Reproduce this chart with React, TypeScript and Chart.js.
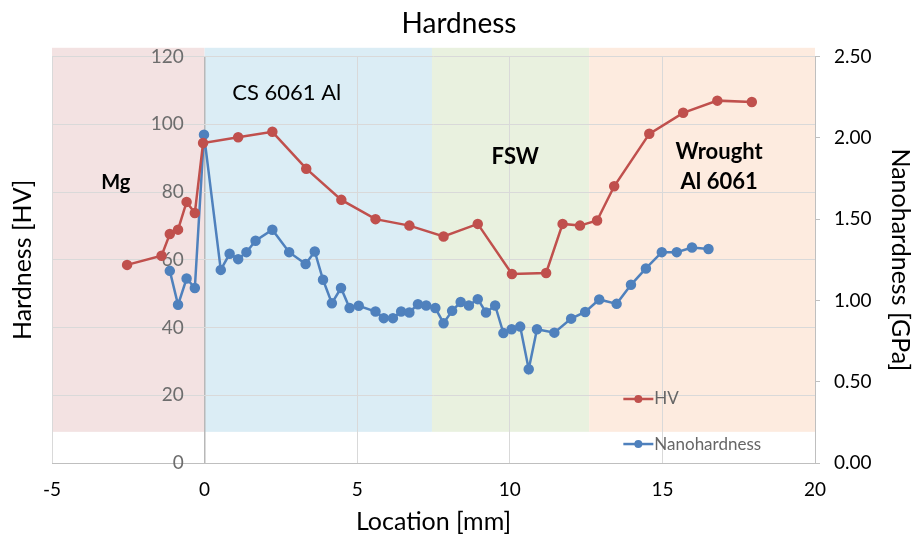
import React, { useEffect, useRef } from 'react';
import { Chart, registerables } from 'chart.js';

Chart.register(...registerables);

// ---------- data ----------
const hvLocation = [-2.54, -1.41, -1.14, -0.87, -0.59, -0.32, -0.05, 1.1, 2.22, 3.33, 4.48, 5.6, 6.71, 7.83, 8.95, 10.07, 11.19, 11.73, 12.3, 12.86, 13.42, 14.57, 15.68, 16.8, 17.93];
const hvValues = [58.5, 61.2, 67.6, 68.9, 77.1, 73.8, 94.5, 96.2, 97.8, 86.9, 77.7, 72.0, 70.1, 66.9, 70.6, 55.8, 56.1, 70.6, 70.1, 71.6, 81.7, 97.2, 103.4, 107.0, 106.6];

const nanoLocation = [-1.14, -0.87, -0.59, -0.32, -0.02, 0.53, 0.82, 1.1, 1.37, 1.67, 2.22, 2.77, 3.31, 3.61, 3.88, 4.17, 4.47, 4.75, 5.05, 5.6, 5.87, 6.17, 6.44, 6.71, 6.99, 7.26, 7.56, 7.83, 8.11, 8.39, 8.66, 8.95, 9.22, 9.52, 9.79, 10.06, 10.34, 10.62, 10.89, 11.46, 12.01, 12.47, 12.93, 13.5, 13.97, 14.46, 14.98, 15.47, 15.97, 16.51];
const nanoValues = [1.182, 0.973, 1.135, 1.076, 2.02, 1.188, 1.287, 1.254, 1.297, 1.367, 1.435, 1.297, 1.224, 1.301, 1.127, 0.983, 1.076, 0.953, 0.967, 0.932, 0.891, 0.891, 0.932, 0.926, 0.977, 0.969, 0.953, 0.86, 0.936, 0.99, 0.969, 1.008, 0.926, 0.969, 0.799, 0.823, 0.839, 0.577, 0.823, 0.802, 0.888, 0.929, 1.006, 0.979, 1.096, 1.197, 1.297, 1.297, 1.326, 1.316];

const seriesNames = ['HV', 'Nanohardness'];

const xMin = -5;
const xMax = 20;
const xStep = 5;
const hvMin = 0;
const hvMax = 120;
const hvStep = 20;
const nanoMin = 0;
const nanoMax = 2.5;
const nanoStep = 0.5;

// material zones along the location axis
const zoneNames = ['Mg', 'CS 6061 Al', 'FSW', 'Wrought\nAl 6061'];
const zoneStarts = [-5, 0, 7.45, 12.6];
const zoneEnds = [0, 7.45, 12.6, 20];
const zoneBottom = 9.2;
const zoneTop = 122.6;

// ---------- styles ----------
const FONT = 'Lato, "Open Sans", sans-serif';
const hvColor = '#c0504d';
const nanoColor = '#4f81bd';
const zoneColors = ['#f3e2e2', '#dbedf5', '#e9f1df', '#fdebdf'];
const zoneLabelX = [-2.91, 2.69, 10.18, 16.86];
const zoneLabelY = [82.8, 109.4, 90.4, 91.9];
const zoneLabelBold = [true, false, true, true];
const zoneLabelSize = [20, 22, 22, 22];
const hvLabelAxisAt = -0.68; // where the HV tick labels sit along the location axis

const zonesPlugin = {
  id: 'zones',
  beforeDraw(chart: any) {
    const { ctx, scales } = chart;
    const x = scales.x;
    const y = scales.y;
    ctx.save();
    for (let i = 0; i < zoneStarts.length; i++) {
      const x0 = x.getPixelForValue(zoneStarts[i]);
      const x1 = x.getPixelForValue(zoneEnds[i]);
      const y0 = y.getPixelForValue(zoneTop);
      const y1 = y.getPixelForValue(zoneBottom);
      ctx.fillStyle = zoneColors[i];
      ctx.fillRect(x0, y0, x1 - x0, y1 - y0);
    }
    ctx.restore();
  },
  afterDraw(chart: any) {
    const { ctx, scales } = chart;
    const x = scales.x;
    const y = scales.y;
    ctx.save();
    ctx.fillStyle = '#000';
    ctx.textAlign = 'center';
    ctx.textBaseline = 'middle';
    for (let i = 0; i < zoneNames.length; i++) {
      ctx.font = `${zoneLabelBold[i] ? 'bold ' : ''}${zoneLabelSize[i]}px ${FONT}`;
      const lines = zoneNames[i].split('\n');
      const px = x.getPixelForValue(zoneLabelX[i]);
      const py = y.getPixelForValue(zoneLabelY[i]);
      lines.forEach((ln, j) => ctx.fillText(ln, px, py + j * 30));
    }
    ctx.restore();
  },
};

// legend drawn inside the plot area
const legendX = 13.72;
const legendYs = [18.9, 5.6];
const insideLegendPlugin = {
  id: 'insideLegend',
  afterDraw(chart: any) {
    const { ctx, scales } = chart;
    const x = scales.x;
    const y = scales.y;
    ctx.save();
    chart.data.datasets.forEach((ds: any, i: number) => {
      const x0 = x.getPixelForValue(legendX);
      const py = y.getPixelForValue(legendYs[i]);
      ctx.strokeStyle = ds.borderColor;
      ctx.lineWidth = 2.5;
      ctx.beginPath();
      ctx.moveTo(x0, py);
      ctx.lineTo(x0 + 30, py);
      ctx.stroke();
      ctx.fillStyle = ds.pointBackgroundColor;
      ctx.beginPath();
      ctx.arc(x0 + 15, py, 4, 0, Math.PI * 2);
      ctx.fill();
      ctx.fillStyle = '#666';
      ctx.font = `17px ${FONT}`;
      ctx.textAlign = 'left';
      ctx.textBaseline = 'middle';
      ctx.fillText(ds.label, x0 + 31, py);
    });
    ctx.restore();
  },
};

export default function App() {
  const canvasRef = useRef<HTMLCanvasElement | null>(null);

  useEffect(() => {
    if (!canvasRef.current) return;
    const hvData = hvLocation.map((l, i) => ({ x: l, y: hvValues[i] }));
    const nanoData = nanoLocation.map((l, i) => ({ x: l, y: nanoValues[i] }));

    const chart = new Chart(canvasRef.current, {
      type: 'line',
      data: {
        datasets: [
          {
            label: seriesNames[0],
            data: hvData,
            yAxisID: 'y',
            borderColor: hvColor,
            backgroundColor: hvColor,
            pointBackgroundColor: hvColor,
            pointBorderColor: hvColor,
            borderWidth: 2.5,
            pointRadius: 4,
            tension: 0,
          },
          {
            label: seriesNames[1],
            data: nanoData,
            yAxisID: 'y1',
            borderColor: nanoColor,
            backgroundColor: nanoColor,
            pointBackgroundColor: nanoColor,
            pointBorderColor: nanoColor,
            borderWidth: 2.5,
            pointRadius: 4,
            tension: 0,
          },
        ],
      },
      options: {
        animation: false,
        responsive: true,
        maintainAspectRatio: false,
        layout: { padding: 0 },
        font: { family: FONT },
        plugins: {
          legend: { display: false },
          tooltip: { enabled: false },
          title: {
            display: true,
            text: 'Hardness',
            color: '#000',
            font: { family: FONT, size: 28, weight: 'normal' },
            padding: { top: 7, bottom: 16 },
          },
        },
        scales: {
          x: {
            type: 'linear',
            min: xMin,
            max: xMax,
            ticks: { stepSize: xStep, color: '#000', font: { family: FONT, size: 19 }, padding: 15 },
            grid: {
              color: (c: any) => (c.tick && c.tick.value === 0 ? '#b8b8b8' : '#d9d9d9'),
              lineWidth: (c: any) => (c.tick && c.tick.value === 0 ? 1.5 : 1),
              drawTicks: false,
            },
            border: { color: '#bfbfbf' },
            title: {
              display: true,
              text: 'Location [mm]',
              color: '#000',
              font: { family: FONT, size: 25 },
              padding: { top: 0, bottom: 3 },
            },
            afterFit: (s: any) => { s.height = 77; },
          },
          y: {
            position: 'left',
            min: hvMin,
            max: hvMax,
            ticks: { display: false, stepSize: hvStep },
            grid: { color: '#d9d9d9', drawTicks: false },
            border: { display: false },
            title: {
              display: true,
              text: 'Hardness [HV]',
              color: '#000',
              font: { family: FONT, size: 25 },
              padding: { top: 8, bottom: 0 },
            },
            afterFit: (s: any) => { s.width = 52; },
          },
          yL: {
            position: { x: hvLabelAxisAt },
            min: hvMin,
            max: hvMax,
            ticks: { stepSize: hvStep, color: '#6d6d6d', font: { family: FONT, size: 19 }, padding: 0 },
            grid: { display: false, drawTicks: false },
            border: { display: false },
          },
          y1: {
            position: 'right',
            min: nanoMin,
            max: nanoMax,
            ticks: {
              stepSize: nanoStep,
              color: '#000',
              font: { family: FONT, size: 19 },
              padding: 14,
              callback: (v: any) => Number(v).toFixed(2),
            },
            grid: { drawOnChartArea: false, drawTicks: true, tickLength: 5, color: '#bfbfbf' },
            border: { color: '#bfbfbf' },
            title: {
              display: true,
              text: 'Nanohardness [GPa]',
              color: '#000',
              font: { family: FONT, size: 25 },
              padding: { top: 3, bottom: 0 },
            },
            afterFit: (s: any) => { s.width = 103; },
          },
        },
      },
      plugins: [zonesPlugin, insideLegendPlugin],
    } as any);

    return () => chart.destroy();
  }, []);

  return (
    <div style={{ position: 'fixed', left: 0, top: 0, width: 918, height: 540, background: '#fff' }}>
      <canvas ref={canvasRef} />
    </div>
  );
}
